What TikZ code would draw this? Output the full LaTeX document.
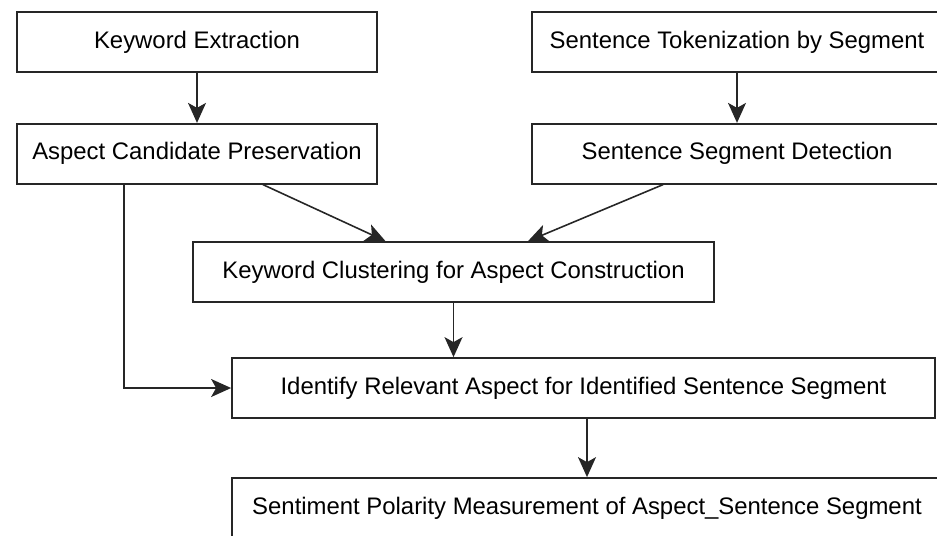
\documentclass[tikz,border=0pt]{standalone}
\usepackage{fontspec}
\setmainfont{Liberation Sans}
\usetikzlibrary{positioning, arrows.meta, calc}

\begin{document}
\begin{tikzpicture}[
    box/.style={rectangle, draw=black!85, line width=1pt, minimum height=1.2cm, align=center, inner sep=4pt, font=\fontsize{13.6pt}{16pt}\selectfont},
    arr/.style={-{Stealth[length=0.4cm, width=0.36cm, inset=0.1cm]}, line width=0.9pt, draw=black!85}
]
    \useasboundingbox (0,0) rectangle (18.74,-10.7);

    % two input chains at the top
    \node[box, minimum width=7.2cm] (kwx) at (3.94,-0.84) {Keyword Extraction};
    \node[box, minimum width=7.2cm] (acp) [below=1cm of kwx] {Aspect Candidate Preservation};

    \node[box, minimum width=8.2cm] (tok) at (14.74,-0.84) {Sentence Tokenization by Segment};
    \node[box, minimum width=8.2cm] (ssd) [below=1cm of tok] {Sentence Segment Detection};

    % merged steps
    \node[box, minimum width=10.42cm] (kwc) at (9.07,-5.44) {Keyword Clustering for Aspect Construction};
    \node[box, minimum width=14.06cm] (ira) at (11.67,-7.76) {Identify Relevant Aspect for Identified Sentence Segment};
    \node[box, minimum width=14.2cm] (sent) at (11.74,-10.16) {Sentiment Polarity Measurement of Aspect\_Sentence Segment};

    \draw[arr] (kwx.south) -- (acp.north);
    \draw[arr] (tok.south) -- (ssd.north);
    \draw[arr] ([xshift=1.32cm]acp.south) -- ([xshift=-1.36cm]kwc.north);
    \draw[arr] ([xshift=-1.48cm]ssd.south) -- ([xshift=1.49cm]kwc.north);
    \draw[arr] (kwc.south) -- (kwc.south |- ira.north);
    \draw[arr] ([xshift=-1.46cm]acp.south) |- (ira.west);
    \draw[arr] (ira.south -| sent.north) -- (sent.north);
\end{tikzpicture}
\end{document}
